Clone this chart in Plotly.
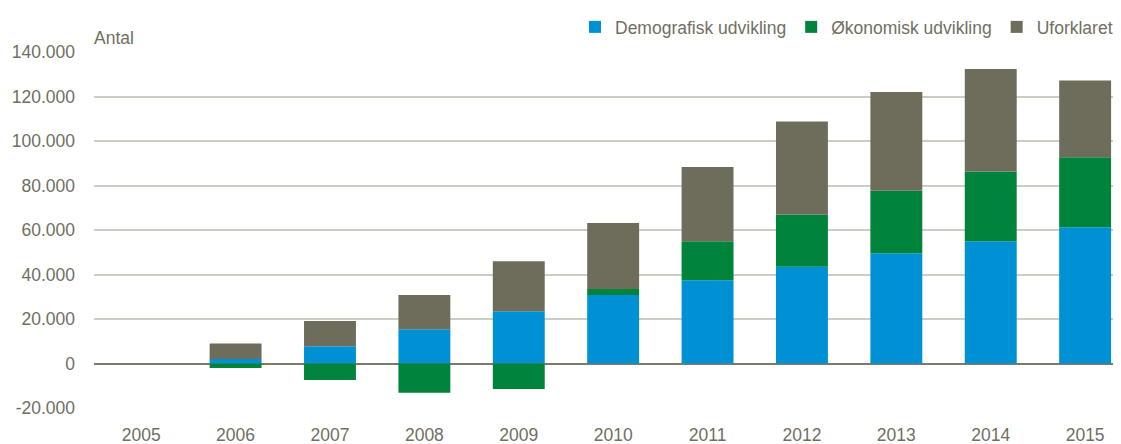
import plotly.graph_objects as go

years = [2005, 2006, 2007, 2008, 2009, 2010, 2011, 2012, 2013, 2014, 2015]
demografisk = [0, 2000, 7800, 15400, 23500, 30800, 37400, 43500, 49600, 54900, 61200]
okonomisk = [0, -2000, -7400, -13100, -11500, 2700, 17500, 23500, 28000, 31400, 31500]
uforklaret = [0, 7000, 11300, 15400, 22500, 29700, 33400, 41800, 44400, 46100, 34500]

ytick_vals = [-20000, 0, 20000, 40000, 60000, 80000, 100000, 120000, 140000]
ytick_text = ["-20.000", "0", "20.000", "40.000", "60.000", "80.000", "100.000", "120.000", "140.000"]

FONT = "Liberation Sans, Arial, sans-serif"
TXT = "#6f6f62"
W, H = 1113, 436  # page body has an 8px margin

fig = go.Figure()
series = [
    ("Demografisk udvikling", demografisk, "#0091d5"),
    ("Økonomisk udvikling", okonomisk, "#00843c"),
    ("Uforklaret", uforklaret, "#6e6d5b"),
]
for name, vals, col in series:
    fig.add_trace(go.Bar(
        x=years, y=vals, name=name, width=0.55,
        marker=dict(color=col, line=dict(width=0)),
    ))

fig.update_layout(
    barmode="relative",
    width=W, height=H,
    margin=dict(l=86, r=0, t=44, b=36, autoexpand=False),
    paper_bgcolor="white", plot_bgcolor="white",
    font=dict(family=FONT, size=17.5, color=TXT),
    legend=dict(orientation="h", xref="container", yref="container",
                x=1110 / W, xanchor="right", y=1 - 19 / H, yanchor="middle",
                font=dict(size=17.5, color=TXT), traceorder="normal",
                itemwidth=30, bgcolor="rgba(0,0,0,0)"),
    xaxis=dict(range=[2004.5, 2015.38], tickvals=years, ticktext=[str(y) for y in years],
               showgrid=False, zeroline=False, showline=False, ticks="", automargin=False,
               ticklabelstandoff=14),
    yaxis=dict(range=[-20000, 140000], tickvals=ytick_vals, ticktext=ytick_text,
               showgrid=True, gridcolor="#cdcdc4", gridwidth=1.5,
               zeroline=True, zerolinecolor="#7b7b6c", zerolinewidth=2,
               ticks="", ticklabelstandoff=18, automargin=False),
    annotations=[dict(text="Antal", xref="paper", yref="paper", x=0, y=1.0,
                      xanchor="left", yanchor="bottom", showarrow=False,
                      font=dict(size=17.5, color=TXT), yshift=2, xshift=-2)],
)

fig.write_html("out.html")
